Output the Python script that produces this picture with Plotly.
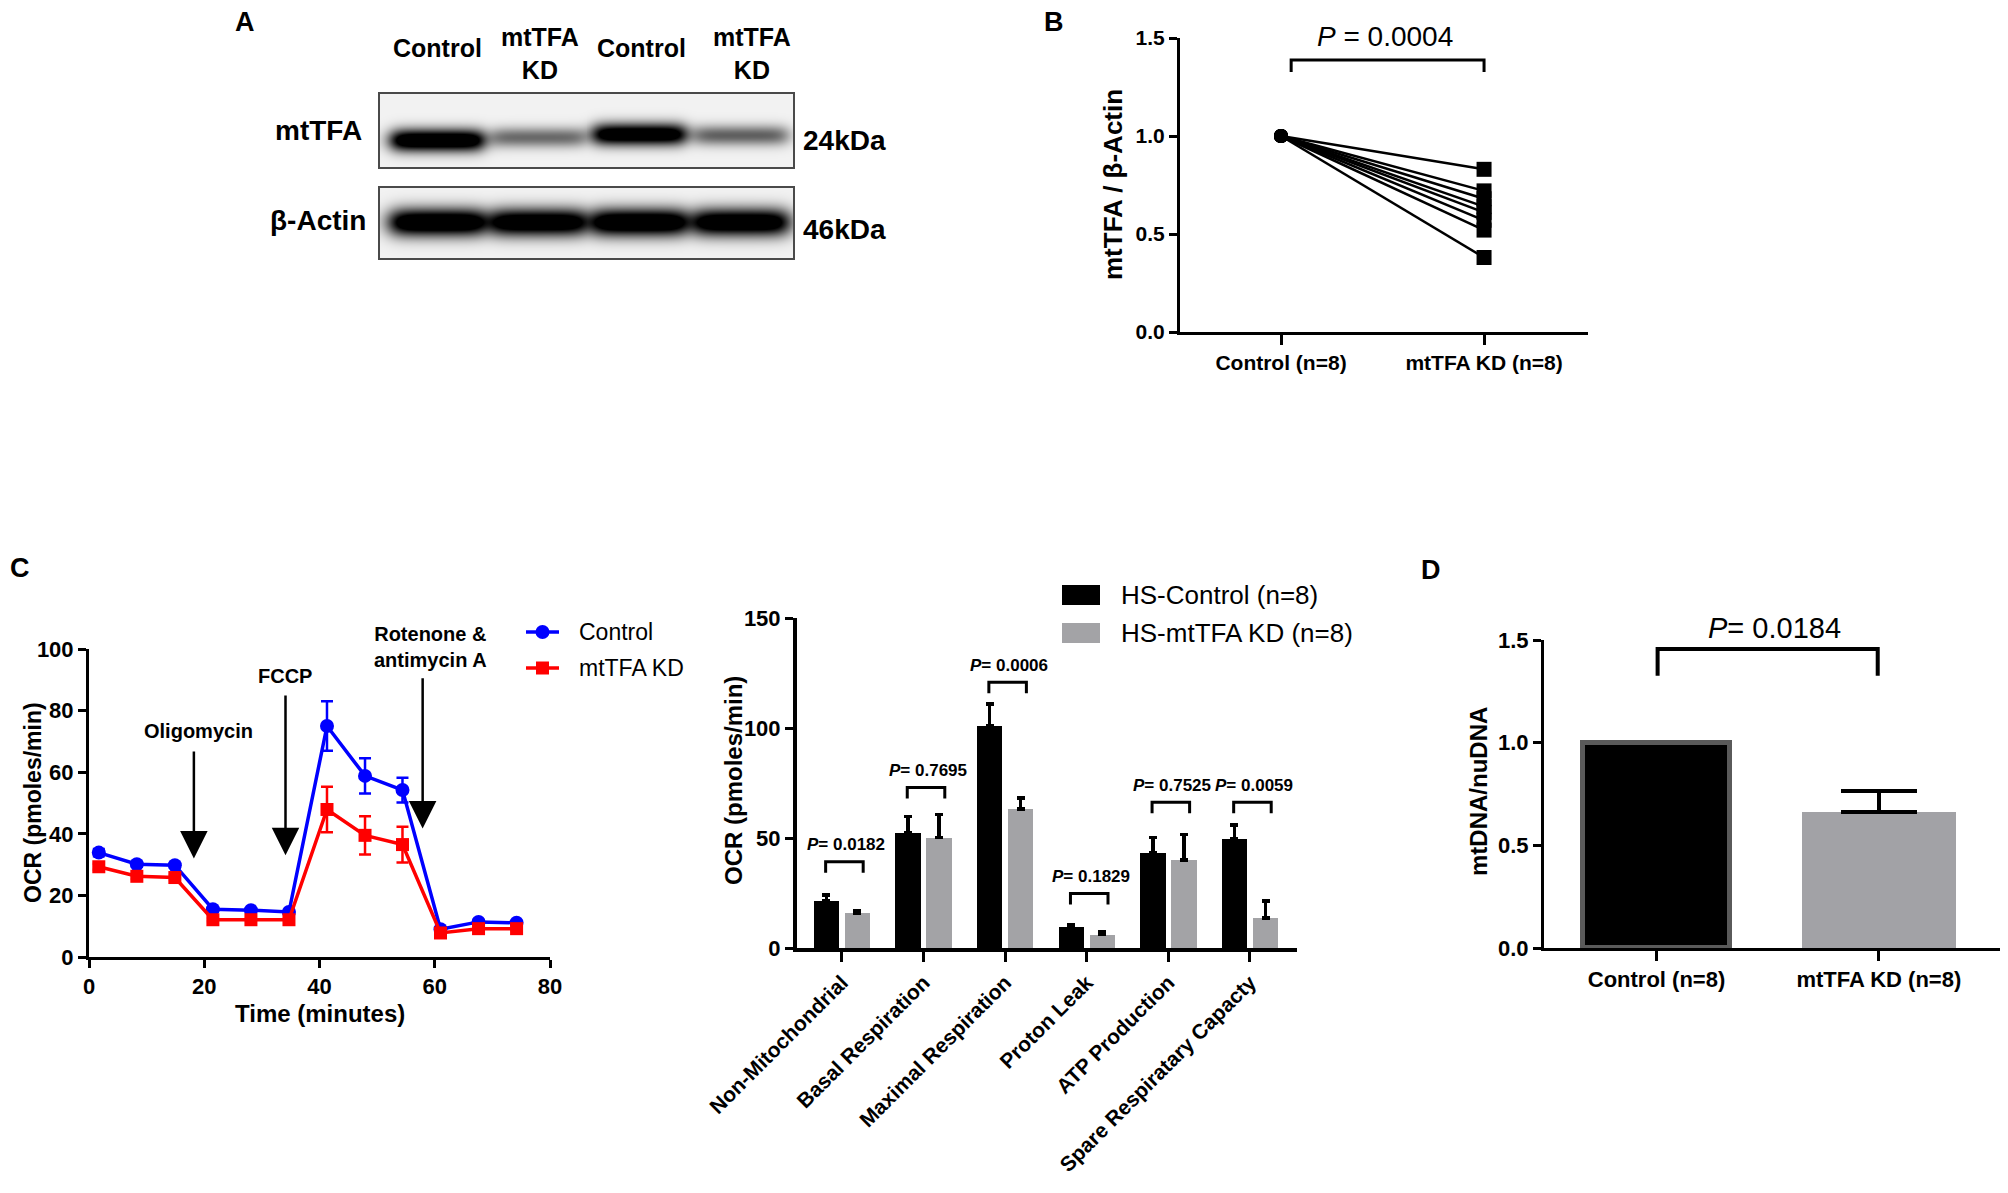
import numpy as np
import plotly.graph_objects as go

# page body keeps an 8px margin, so the figure is drawn 16px smaller
W, H = 1992, 1177
OFF = 8
FONT = "Liberation Sans, Arial, sans-serif"

# ---- A: western blot (relative band darkness per lane)
blot_lanes = ["Control", "mtTFA<br>KD", "Control", "mtTFA<br>KD"]
blot_rows = ["mtTFA", "β-Actin"]
blot_sizes = ["24kDa", "46kDa"]
mttfa_band = [1.0, 0.42, 0.95, 0.45]
actin_band = [1.0, 0.96, 1.0, 0.97]

# ---- B: mtTFA / beta-actin, paired
pair_groups = ["Control (n=8)", "mtTFA KD (n=8)"]
ratio_control = [1.0, 1.0, 1.0, 1.0, 1.0, 1.0, 1.0, 1.0]
ratio_kd = [0.83, 0.72, 0.68, 0.64, 0.61, 0.57, 0.52, 0.38]
p_b = "0.0004"

# ---- C: Seahorse time course
time_min = [1.7, 8.3, 14.9, 21.5, 28.1, 34.7, 41.3, 47.9, 54.4, 61.0, 67.6, 74.2]
ocr_control = [33.9, 30.1, 29.8, 15.5, 15.2, 14.6, 75.0, 58.8, 54.2, 9.0, 11.4, 11.1]
ocr_control_err = [1.2, 0.8, 0.8, 0.7, 0.6, 0.6, 8.0, 5.7, 4.0, 0.6, 0.6, 0.6]
ocr_kd = [29.3, 26.2, 25.8, 12.1, 12.1, 12.1, 47.9, 39.5, 36.5, 7.8, 9.2, 9.2]
ocr_kd_err = [1.0, 0.8, 0.8, 0.5, 0.5, 0.5, 7.4, 6.2, 5.8, 0.5, 0.5, 0.5]
injections = ["Oligomycin", "FCCP", "Rotenone &amp;<br>antimycin A"]
injection_time = [18.2, 34.1, 57.9]

# ---- C: respiration parameters
params = ["Non-Mitochondrial", "Basal Respiration", "Maximal Respiration",
          "Proton Leak", "ATP Production", "Spare Respiratary Capacty"]
hs_control = [21.3, 52.5, 101.0, 9.4, 43.4, 49.5]
hs_control_err = [2.8, 7.3, 9.9, 1.3, 6.9, 6.4]
hs_kd = [15.7, 50.2, 63.2, 6.1, 40.0, 13.7]
hs_kd_err = [1.4, 10.5, 5.0, 1.2, 11.5, 7.6]
p_params = ["0.0182", "0.7695", "0.0006", "0.1829", "0.7525", "0.0059"]

# ---- D: mtDNA copy number
dna_groups = ["Control (n=8)", "mtTFA KD (n=8)"]
dna_ratio = [1.0, 0.66]
dna_err = [0.0, 0.105]
p_d = "0.0184"


def px(x):
    return min(max((x - OFF) / W, 0.0), 1.0)


def py(y):
    return min(max(1 - (y - OFF) / H, 0.0), 1.0)


def note(text, x, y, size, bold=True, xanchor="center", **kw):
    t = f"<b>{text}</b>" if bold else text
    return dict(text=t, x=px(x), y=py(y), xref="paper", yref="paper",
                xanchor=xanchor, yanchor="middle", showarrow=False,
                font=dict(size=size, color="black", family=FONT), **kw)


def bracket(x0, x1, top, drop, xr, yr, w=3):
    return dict(type="path", xref=xr, yref=yr,
                path=f"M{x0},{top - drop} L{x0},{top} L{x1},{top} L{x1},{top - drop}",
                line=dict(color="black", width=w))


def tfont(s):
    return dict(size=s, family=FONT, color="black")


def ax(**kw):
    base = dict(showline=True, linecolor="black", linewidth=3, ticks="outside",
                tickwidth=3, tickcolor="black", ticklen=8, showgrid=False,
                zeroline=False, automargin=False, tickfont=tfont(21))
    base.update(kw)
    return base


fig = go.Figure()

# ---------- blot heatmap
bx = np.arange(0, 416, 1.0)
by = np.arange(93, 260, 1.0)
lane_c = np.array([58, 159, 261, 363])
top_rows = (by >= 93) & (by <= 168)
bot_rows = (by >= 187) & (by <= 259)
mttfa_y = [141, 138, 135, 136]
inten = np.zeros((len(by), len(bx)))
for i, v in enumerate(mttfa_band):
    prof_x = 1 / (1 + np.exp((np.abs(bx - lane_c[i]) - 46) / 5))
    sig = 6.5 + 1.5 * v
    prof_y = np.exp(-0.5 * ((by - mttfa_y[i]) / sig) ** 2) * top_rows
    inten += v * np.outer(prof_y, prof_x)
for i, v in enumerate(actin_band):
    prof_x = 1 / (1 + np.exp((np.abs(bx - lane_c[i]) - 47) / 6))
    prof_y = np.exp(-0.5 * ((by - 222) / 10) ** 2) * bot_rows
    inten += v * np.outer(prof_y, prof_x)
bg = 0.05
z = bg + (1 - bg) * np.clip(1.35 * inten, 0, 1)
z[~(top_rows | bot_rows), :] = np.nan
fig.add_trace(go.Heatmap(x=bx, y=by, z=z, zmin=0, zmax=1, showscale=False,
                         colorscale=[[0, "#ffffff"], [1, "#000000"]],
                         hoverinfo="skip", xaxis="x", yaxis="y"))

# ---------- B paired lines
lx, ly = [], []
for c, k in zip(ratio_control, ratio_kd):
    lx += [0, 1, None]
    ly += [c, k, None]
fig.add_trace(go.Scatter(x=lx, y=ly, mode="lines", line=dict(color="black", width=2.5),
                         xaxis="x2", yaxis="y2", showlegend=False))
fig.add_trace(go.Scatter(x=[0] * len(ratio_control), y=ratio_control, mode="markers",
                         marker=dict(symbol="circle", size=14, color="black"),
                         xaxis="x2", yaxis="y2", showlegend=False))
fig.add_trace(go.Scatter(x=[1] * len(ratio_kd), y=ratio_kd, mode="markers",
                         marker=dict(symbol="square", size=15, color="black"),
                         xaxis="x2", yaxis="y2", showlegend=False))

# ---------- C time course
fig.add_trace(go.Scatter(x=time_min, y=ocr_control, mode="lines+markers", name="Control",
                         line=dict(color="#0000ff", width=3.5),
                         marker=dict(symbol="circle", size=14, color="#0000ff"),
                         error_y=dict(type="data", array=ocr_control_err, color="#0000ff",
                                      thickness=2.5, width=6),
                         xaxis="x3", yaxis="y3", showlegend=False))
fig.add_trace(go.Scatter(x=time_min, y=ocr_kd, mode="lines+markers", name="mtTFA KD",
                         line=dict(color="#ff0000", width=3.5),
                         marker=dict(symbol="square", size=13, color="#ff0000"),
                         error_y=dict(type="data", array=ocr_kd_err, color="#ff0000",
                                      thickness=2.5, width=6),
                         xaxis="x3", yaxis="y3", showlegend=False))

# ---------- C parameter bars
cat_x = list(range(len(params)))
fig.add_trace(go.Bar(x=cat_x, y=hs_control, width=0.31, offset=-0.345,
                     marker=dict(color="black", line=dict(width=0)),
                     error_y=dict(type="data", array=hs_control_err, arrayminus=[0] * 6,
                                  symmetric=False, color="black", thickness=3.5, width=4),
                     xaxis="x4", yaxis="y4", showlegend=False))
fig.add_trace(go.Bar(x=cat_x, y=hs_kd, width=0.31, offset=0.035,
                     marker=dict(color="#a3a3a6", line=dict(width=0)),
                     error_y=dict(type="data", array=hs_kd_err, arrayminus=[0] * 6,
                                  symmetric=False, color="black", thickness=3.5, width=4),
                     xaxis="x4", yaxis="y4", showlegend=False))

# ---------- D bars
fig.add_trace(go.Bar(x=[0], y=[dna_ratio[0]], width=0.66,
                     marker=dict(color="black", line=dict(color="#5a5a5a", width=5)),
                     xaxis="x5", yaxis="y5", showlegend=False))
fig.add_trace(go.Bar(x=[1], y=[dna_ratio[1]], width=0.69,
                     marker=dict(color="#a2a2a6", line=dict(width=0)),
                     error_y=dict(type="data", array=[dna_err[1]], arrayminus=[0],
                                  symmetric=False, color="black", thickness=4, width=38),
                     xaxis="x5", yaxis="y5", showlegend=False))

shapes = []
ann = []

# blot frames and labels
for y0, y1 in [(93, 168), (187, 259)]:
    shapes.append(dict(type="rect", xref="paper", yref="paper", x0=px(379), x1=px(794),
                       y0=py(y1), y1=py(y0), line=dict(color="#4a4a4a", width=2)))
for lab, cx in zip(blot_lanes, [437, 540, 641, 752]):
    ann.append(note(lab, cx, 54 if "KD" in lab else 48, 25))
for lab, sz, cy in zip(blot_rows, blot_sizes, [130, 220]):
    ann.append(note(lab, 318, cy, 28))
    ann.append(note(sz, 844, cy + 10, 28))

# panel letters
for lab, x, y in [("A", 245, 22), ("B", 1054, 22), ("C", 20, 568), ("D", 1431, 570)]:
    ann.append(note(lab, x, y, 27))

# B annotations
shapes.append(bracket(0.05, 1.0, 1.388, 0.061, "x2", "y2"))
ann.append(note(f"<i>P</i> = {p_b}", 1385, 37, 28, bold=False))
ann.append(note("mtTFA / β-Actin", 1113, 185, 26, textangle=-90))

# C time-course annotations
arrow_head = [32.0, 33.0, 41.7]
arrow_tail = [67.2, 85.4, 91.0]
label_px = [(198, 731), (285, 676), (430, 647)]
for lab, t, yh, yt, (lx_, ly_) in zip(injections, injection_time, arrow_head, arrow_tail, label_px):
    ann.append(dict(x=t, y=yh, ax=t, ay=yt, xref="x3", yref="y3", axref="x3", ayref="y3",
                    text="", showarrow=True, arrowhead=2, arrowsize=2.2, arrowwidth=2.5,
                    arrowcolor="black"))
    ann.append(note(lab, lx_, ly_, 20))
ann.append(note("OCR (pmoles/min)", 33, 803, 23, textangle=-90))
ann.append(note("Time (minutes)", 320, 1013, 24))

# C time-course legend
for name, col, sym, yy in [("Control", "#0000ff", "circle", 632), ("mtTFA KD", "#ff0000", "square", 668)]:
    shapes.append(dict(type="line", xref="paper", yref="paper", x0=px(526), x1=px(559),
                       y0=py(yy), y1=py(yy), line=dict(color=col, width=3.5)))
    if sym == "circle":
        shapes.append(dict(type="circle", xref="paper", yref="paper", x0=px(535.5), x1=px(549.5),
                           y0=py(yy + 7), y1=py(yy - 7), fillcolor=col, line=dict(width=0)))
    else:
        shapes.append(dict(type="rect", xref="paper", yref="paper", x0=px(536), x1=px(549),
                           y0=py(yy + 6.5), y1=py(yy - 6.5), fillcolor=col, line=dict(width=0)))
    ann.append(note(name, 577, yy, 23, bold=False, xanchor="left"))

# C parameter annotations
br_top = [39.2, 73.0, 120.8, 24.8, 66.2, 66.2]
for i, (p, top) in enumerate(zip(p_params, br_top)):
    shapes.append(bracket(i - 0.2, i + 0.26, top, 5.0, "x4", "y4"))
    ann.append(dict(text=f"<b><i>P</i>= {p}</b>", x=i + 0.05, y=top + 7.8, xref="x4", yref="y4",
                    xanchor="center", yanchor="middle", showarrow=False,
                    font=dict(size=17, family=FONT, color="black")))
ann.append(note("OCR (pmoles/min)", 733, 781, 24, textangle=-90))
for name, col, yy in [("HS-Control (n=8)", "black", 595), ("HS-mtTFA KD (n=8)", "#a3a3a6", 633)]:
    shapes.append(dict(type="rect", xref="paper", yref="paper", x0=px(1062), x1=px(1100),
                       y0=py(yy + 10), y1=py(yy - 10), fillcolor=col, line=dict(width=0)))
    ann.append(note(name, 1119, yy, 26, bold=False, xanchor="left"))

# D annotations
shapes.append(bracket(0.005, 0.995, 1.456, 0.13, "x5", "y5", w=4))
ann.append(note(f"<i>P</i>= {p_d}", 1774, 628, 29, bold=False))
ann.append(note("mtDNA/nuDNA", 1478, 792, 24, textangle=-90))

fig.update_layout(
    width=W, height=H, margin=dict(l=0, r=0, t=0, b=0, autoexpand=False),
    paper_bgcolor="white", plot_bgcolor="rgba(0,0,0,0)",
    font=dict(family=FONT, color="black"),
    bargap=0, showlegend=False,
    xaxis=dict(domain=[px(379), px(794)], range=[-0.5, 415.5], visible=False,
               automargin=False, anchor="y"),
    yaxis=dict(domain=[py(260), py(92)], range=[259.5, 92.5], visible=False,
               automargin=False, anchor="x"),
    xaxis2=ax(domain=[px(1180), px(1588)], range=[-0.4975, 1.512], tickvals=[0, 1],
              ticktext=[f"<b>{g}</b>" for g in pair_groups], ticklen=10, anchor="y2"),
    yaxis2=ax(domain=[py(332), py(38)], range=[0, 1.5], tickvals=[0, 0.5, 1, 1.5],
              ticktext=["<b>0.0</b>", "<b>0.5</b>", "<b>1.0</b>", "<b>1.5</b>"],
              tickfont=tfont(21), anchor="x2"),
    xaxis3=ax(domain=[px(89), px(550)], range=[0, 80], tickvals=[0, 20, 40, 60, 80],
              ticktext=[f"<b>{v}</b>" for v in [0, 20, 40, 60, 80]],
              tickfont=tfont(22), anchor="y3"),
    yaxis3=ax(domain=[py(957), py(649)], range=[0, 100], tickvals=[0, 20, 40, 60, 80, 100],
              ticktext=[f"<b>{v}</b>" for v in [0, 20, 40, 60, 80, 100]],
              tickfont=tfont(22), anchor="x3"),
    xaxis4=ax(domain=[px(797), px(1297)], range=[-0.551, 5.576], tickvals=cat_x,
              ticktext=[f"<b>{p}</b>" for p in params], tickangle=-45, ticklen=10,
              tickfont=tfont(21), linewidth=4, anchor="y4"),
    yaxis4=ax(domain=[py(948), py(618)], range=[0, 150], tickvals=[0, 50, 100, 150],
              ticktext=[f"<b>{v}</b>" for v in [0, 50, 100, 150]],
              tickfont=tfont(22), linewidth=4, anchor="x4"),
    xaxis5=ax(domain=[px(1544), px(2008)], range=[-0.506, 1.545], tickvals=[0, 1],
              ticktext=[f"<b>{g}</b>" for g in dna_groups], ticklen=10,
              tickfont=tfont(22), anchor="y5"),
    yaxis5=ax(domain=[py(948), py(640)], range=[0, 1.5], tickvals=[0, 0.5, 1, 1.5],
              ticktext=["<b>0.0</b>", "<b>0.5</b>", "<b>1.0</b>", "<b>1.5</b>"],
              tickfont=tfont(22), anchor="x5"),
    shapes=shapes,
    annotations=ann,
)

fig.write_html("out.html")
